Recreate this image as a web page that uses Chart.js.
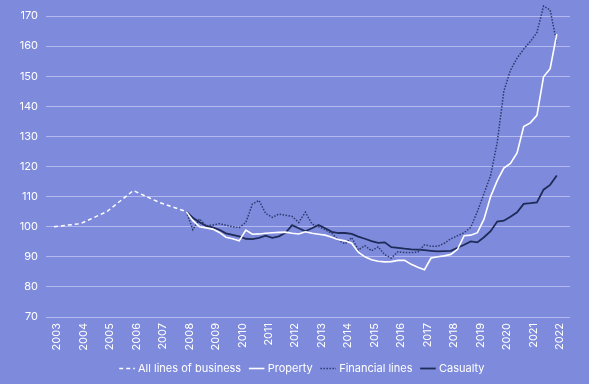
<!DOCTYPE html>
<html>
<head>
<meta charset="utf-8">
<script src="https://cdn.jsdelivr.net/npm/chart.js@4/dist/chart.umd.min.js"></script>
<style>
  html, body { margin:0; padding:0; background:#7e8bdc; }
  #wrap { width:589px; height:384px; }
</style>
</head>
<body>
<div id="wrap"><canvas id="chart" width="589" height="384"></canvas></div>
<script>
// Insurance price index by line (2003 = 100)
const BG = '#7e8bdc';
const GRID = '#b3b8ee';
const NAVY = '#1e2a57';
const DOT = '#2c386f';

const yearTicks = [2003,2004,2005,2006,2007,2008,2009,2010,2011,2012,2013,2014,2015,2016,2017,2018,2019,2020,2021,2022];

// annual series, 2003-2008
const allYears = [2003,2004,2005,2006,2007,2008];
const allLines = [100,101,105,112,108,105];

// quarterly series, 2008 Q1 - 2022 Q1
const quarterStart = 2008;
const property = [105,102,100,99.6,99.2,98.1,96.5,96,95.3,98.9,97.5,97.6,97.8,98,98.1,98.2,
  97.8,97.6,98.3,97.8,97.5,97.2,96.5,95.7,95.3,94.5,91.5,90,89,88.5,88.3,88.4,
  88.8,88.8,87.5,86.5,85.7,89.6,90,90.3,90.8,92.5,97,97.2,98,102.5,110,115.3,
  119.5,121,124.5,133.3,134.5,137,149.8,152.5,164];
const financial = [105,99,102.6,100.3,100.6,101,100.5,100,99.7,101.4,107.5,108.7,104.4,103.1,104.2,103.8,
  103.4,101.4,104.8,100.9,100,99,97.8,95.5,94.3,96.4,92.3,93.7,92,93.3,90.7,89.6,
  91.7,91.4,91.4,91.6,94,93.5,93.5,94.5,96,97,98,99.8,105,111,117,128,
  145,152,156,159,161.5,164.5,173.3,172,161];
const casualty = [105,103,101.5,100.3,99.8,99,97.8,97.3,96.8,96,95.9,96.3,97,96.3,96.8,98,
  100.5,99.5,98.5,99.5,100.6,99.5,98.3,97.9,97.9,97.6,96.7,96,95.2,94.6,94.8,93.2,
  93,92.7,92.5,92.4,92.2,92,91.8,91.9,92,93,94,95.1,94.8,96.5,98.5,101.7,
  102,103.3,104.8,107.6,107.8,108.1,112.3,113.9,117];

const quarterly = (vals) => vals.map((v, i) => ({ x: quarterStart + i / 4, y: v }));
const annual = allYears.map((yr, i) => ({ x: yr, y: allLines[i] }));

Chart.defaults.font.family = 'Inter, "Noto Sans", sans-serif';
Chart.defaults.font.size = 11;
Chart.defaults.color = '#ffffff';

const bgPlugin = {
  id: 'bg',
  beforeDraw(c) {
    const ctx = c.ctx;
    ctx.save();
    ctx.fillStyle = BG;
    ctx.fillRect(0, 0, c.width, c.height);
    ctx.restore();
  }
};

// legend sits centred under the plot rather than the whole canvas
const legendShift = {
  id: 'legendShift',
  afterLayout(c) {
    const lg = c.legend;
    if (!lg) return;
    lg.left += 18;
    lg.right += 18;
  }
};

// legend swatches: take dash and width from the dataset line itself
function legendLabels(chart) {
  const items = Chart.defaults.plugins.legend.labels.generateLabels(chart);
  return items.map(it => {
    const ds = chart.data.datasets[it.datasetIndex];
    it.lineDash = ds.borderDash || [];
    it.lineWidth = ds.borderWidth;
    it.strokeStyle = ds.borderColor;
    it.pointStyle = 'line';
    return it;
  });
}

new Chart(document.getElementById('chart'), {
  type: 'line',
  data: {
    datasets: [
      { label: 'All lines of business', data: annual, borderColor: '#ffffff', borderWidth: 1.5, borderDash: [4, 3] },
      { label: 'Property', data: quarterly(property), borderColor: '#ffffff', borderWidth: 1.6 },
      { label: 'Financial lines', data: quarterly(financial), borderColor: DOT, borderWidth: 1.5, borderDash: [1.5, 1.5], clip: false },
      { label: 'Casualty', data: quarterly(casualty), borderColor: NAVY, borderWidth: 1.8 },
    ]
  },
  options: {
    responsive: false,
    animation: false,
    layout: { padding: { left: 0, right: 19, top: 16, bottom: 0 } },
    elements: { point: { radius: 0 }, line: { tension: 0 } },
    plugins: {
      legend: {
        position: 'bottom',
        labels: { usePointStyle: true, pointStyle: 'line', boxWidth: 16, padding: 10, color: '#ffffff', generateLabels: legendLabels }
      },
      tooltip: { enabled: false }
    },
    scales: {
      x: {
        type: 'linear', min: 2002.7, max: 2022.5,
        afterBuildTicks: (s) => { s.ticks = yearTicks.map(v => ({ value: v })); },
        afterFit: (s) => { s.height = 36; },
        grid: { display: false, drawTicks: false },
        border: { display: false },
        ticks: { autoSkip: false, minRotation: 90, maxRotation: 90, padding: 6, labelOffset: 3, callback: (v) => String(v) }
      },
      y: {
        min: 70, max: 170,
        afterFit: (s) => { s.width = 46; },
        grid: { color: GRID, lineWidth: 1, drawTicks: false },
        border: { display: false },
        ticks: { stepSize: 10, padding: 8 }
      }
    }
  },
  plugins: [bgPlugin, legendShift]
});
</script>
</body>
</html>
